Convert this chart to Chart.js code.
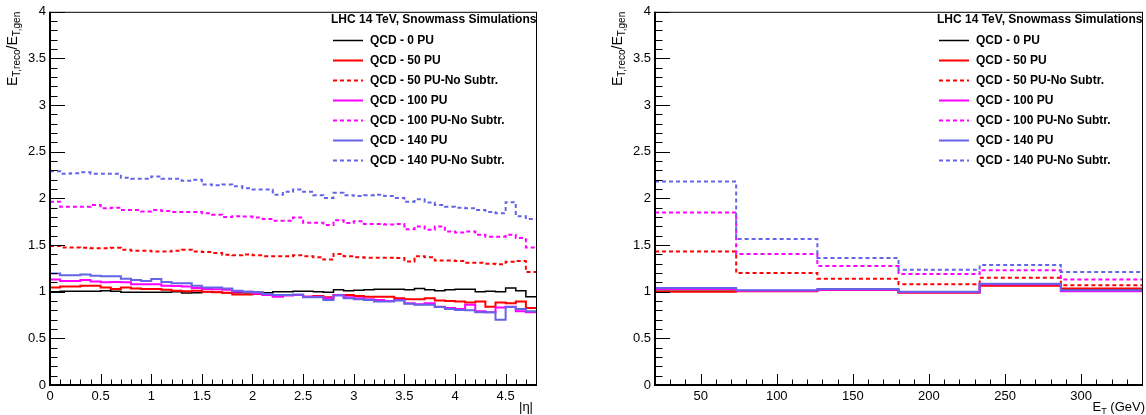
<!DOCTYPE html>
<html>
<head>
<meta charset="utf-8">
<script src="https://cdn.jsdelivr.net/npm/chart.js@4.4.0/dist/chart.umd.min.js"></script>
<style>
    body { margin: 0; background: #fff; }
    .pad { position: absolute; top: 0; width: 573px; height: 415px; }
</style>
</head>
<body>
<div class="pad" style="left:0"><canvas id="etaChart" width="573" height="415"></canvas></div>
<div class="pad" style="left:573px"><canvas id="etChart" width="573" height="415"></canvas></div>
<script>
// legend / series names
const seriesLabels = [
    "QCD - 0 PU",
    "QCD - 50 PU",
    "QCD - 50 PU-No Subtr.",
    "QCD - 100 PU",
    "QCD - 100 PU-No Subtr.",
    "QCD - 140 PU",
    "QCD - 140 PU-No Subtr."
];
const seriesColors = ["#000000", "#ff0000", "#ff0000", "#ff00ff", "#ff00ff", "#6464e8", "#6464e8"];
const seriesDashed = [false, false, true, false, true, false, true];

// |eta| bin edges and contents (48 bins)
const etaEdges = [0, 0.1, 0.2, 0.3, 0.4, 0.5, 0.6, 0.7, 0.8, 0.9, 1.0, 1.1, 1.2, 1.3, 1.4, 1.5,
    1.6, 1.7, 1.8, 1.9, 2.0, 2.1, 2.2, 2.3, 2.4, 2.5, 2.6, 2.7, 2.8, 2.9, 3.0, 3.1, 3.2,
    3.3, 3.4, 3.5, 3.6, 3.7, 3.8, 3.9, 4.0, 4.1, 4.2, 4.3, 4.4, 4.5, 4.6, 4.7, 4.8];
const eta0PU = [1.00, 1.005, 1.005, 1.005, 1.005, 1.01, 1.005, 0.995, 0.995, 0.995, 0.995, 0.995,
    1.0, 0.985, 0.99, 1.0, 0.995, 0.99, 0.99, 0.99, 0.995, 0.99, 1.0, 1.0, 1.005, 1.005, 1.0, 0.995,
    1.02, 1.01, 1.015, 1.02, 1.025, 1.025, 1.025, 1.02, 1.035, 1.02, 1.01, 1.02, 1.025, 1.025,
    1.0, 1.005, 1.0, 1.04, 1.01, 0.945];
const eta50PU = [1.045, 1.055, 1.055, 1.065, 1.065, 1.045, 1.03, 1.045, 1.035, 1.03, 1.03, 1.02,
    1.01, 1.005, 1.01, 1.0, 0.993, 0.99, 0.97, 0.97, 0.975, 0.965, 0.955, 0.965, 0.965, 0.945, 0.955,
    0.94, 0.965, 0.965, 0.955, 0.945, 0.945, 0.945, 0.93, 0.92, 0.92, 0.93, 0.905, 0.9, 0.895, 0.885,
    0.895, 0.84, 0.885, 0.875, 0.895, 0.825];
const eta50NoSub = [1.49, 1.475, 1.475, 1.47, 1.465, 1.465, 1.47, 1.45, 1.44, 1.44, 1.43, 1.43,
    1.44, 1.45, 1.43, 1.425, 1.415, 1.395, 1.39, 1.40, 1.39, 1.38, 1.38, 1.38, 1.39, 1.38, 1.37,
    1.345, 1.405, 1.38, 1.37, 1.365, 1.365, 1.365, 1.36, 1.325, 1.38, 1.37, 1.335, 1.335, 1.33,
    1.31, 1.31, 1.30, 1.295, 1.32, 1.33, 1.21];
const eta100PU = [1.13, 1.115, 1.115, 1.125, 1.11, 1.10, 1.105, 1.10, 1.08, 1.08, 1.08, 1.065,
    1.06, 1.055, 1.04, 1.03, 1.025, 1.02, 1.0, 1.0, 0.98, 0.965, 0.945, 0.96, 0.965, 0.945, 0.945,
    0.93, 0.965, 0.94, 0.93, 0.92, 0.91, 0.9, 0.91, 0.875, 0.865, 0.875, 0.84, 0.825, 0.815, 0.86,
    0.79, 0.78, 0.83, 0.84, 0.79, 0.78];
const eta100NoSub = [1.965, 1.91, 1.91, 1.91, 1.93, 1.895, 1.90, 1.875, 1.875, 1.86, 1.875, 1.865,
    1.855, 1.855, 1.855, 1.84, 1.825, 1.80, 1.81, 1.805, 1.795, 1.78, 1.76, 1.76, 1.795, 1.74, 1.74,
    1.715, 1.765, 1.735, 1.755, 1.725, 1.725, 1.72, 1.725, 1.67, 1.70, 1.665, 1.70, 1.645, 1.635,
    1.645, 1.61, 1.59, 1.59, 1.61, 1.575, 1.475];
const eta140PU = [1.195, 1.175, 1.175, 1.185, 1.17, 1.165, 1.165, 1.14, 1.125, 1.115, 1.135, 1.105,
    1.09, 1.09, 1.065, 1.045, 1.045, 1.035, 1.01, 1.0, 0.993, 0.975, 0.965, 0.965, 0.97, 0.94, 0.94,
    0.91, 0.96, 0.93, 0.92, 0.91, 0.895, 0.895, 0.905, 0.87, 0.86, 0.86, 0.835, 0.815, 0.805, 0.8,
    0.78, 0.78, 0.70, 0.835, 0.815, 0.79];
const eta140NoSub = [2.29, 2.265, 2.27, 2.28, 2.265, 2.265, 2.265, 2.22, 2.21, 2.21, 2.235, 2.21,
    2.21, 2.19, 2.2, 2.15, 2.14, 2.15, 2.13, 2.11, 2.095, 2.095, 2.04, 2.07, 2.095, 2.07, 2.035,
    2.005, 2.06, 2.035, 2.025, 2.035, 2.04, 2.025, 2.005, 1.965, 1.99, 1.955, 1.93, 1.91, 1.90,
    1.895, 1.875, 1.855, 1.84, 1.96, 1.81, 1.78];

// E_T bin edges (GeV) and contents (6 bins)
const etEdges = [20, 73.33, 126.67, 180, 233.33, 286.67, 340];
const et0PU = [1.005, 1.005, 1.02, 0.995, 1.07, 1.03];
const et50PU = [1.0, 1.005, 1.02, 0.99, 1.065, 1.035];
const et50NoSub = [1.43, 1.20, 1.14, 1.08, 1.15, 1.07];
const et100PU = [1.03, 1.01, 1.02, 0.995, 1.08, 1.005];
const et100NoSub = [1.85, 1.405, 1.275, 1.19, 1.23, 1.13];
const et140PU = [1.04, 1.015, 1.03, 1.0, 1.085, 1.015];
const et140NoSub = [2.18, 1.565, 1.36, 1.235, 1.285, 1.21];

const yTickLabels = ["0", "0.5", "1", "1.5", "2", "2.5", "3", "3.5", "4"];
const headerText = "LHC 14 TeV, Snowmass Simulations";

const FONT = '"Liberation Sans", Arial, Helvetica, sans-serif';

// histogram -> stepped line points
function histPoints(edges, values) {
    const pts = values.map((v, i) => ({ x: edges[i], y: v }));
    pts.push({ x: edges[edges.length - 1], y: values[values.length - 1] });
    return pts;
}

function buildDatasets(edges, seriesList) {
    return seriesList.map((vals, i) => ({
        label: seriesLabels[i],
        data: histPoints(edges, vals),
        borderColor: seriesColors[i],
        borderWidth: i === 0 ? 1.5 : 2,
        borderDash: seriesDashed[i] ? [4, 3] : [],
        stepped: true,
        pointRadius: 0,
        fill: false,
        order: 10 - i
    }));
}

function drawRich(ctx, segs, x, y, align) {
    let total = 0;
    segs.forEach(s => {
        ctx.font = (s.bold ? "bold " : "") + s.size + "px " + FONT;
        s.w = ctx.measureText(s.t).width;
        total += s.w;
    });
    let cx = align === "right" ? x - total : x;
    ctx.textAlign = "left";
    ctx.textBaseline = "alphabetic";
    segs.forEach(s => {
        ctx.font = (s.bold ? "bold " : "") + s.size + "px " + FONT;
        ctx.fillText(s.t, cx, y + (s.dy || 0));
        cx += s.w;
    });
    return total;
}

const yTitleSegs = [
    { t: "E", size: 14 },
    { t: "T,reco", size: 10, dy: 3 },
    { t: "/", size: 14 },
    { t: "E", size: 14 },
    { t: "T,gen", size: 10, dy: 3 }
];

// ROOT-like frame, inward ticks, titles and legend
const rootDecor = {
    id: "rootDecor",
    afterDraw(chart, args, opts) {
        const ctx = chart.ctx;
        const area = chart.chartArea;
        const xs = chart.scales.x;
        const ys = chart.scales.y;
        ctx.save();
        ctx.strokeStyle = "#000";

        // ticks
        ctx.lineWidth = 1;
        ctx.beginPath();
        xs.ticks.forEach(t => {
            const px = Math.round(xs.getPixelForValue(t.value)) + 0.5;
            const len = t.label !== "" ? 11 : 5.5;
            ctx.moveTo(px, area.bottom);
            ctx.lineTo(px, area.bottom - len);
        });
        ys.ticks.forEach(t => {
            const py = Math.round(ys.getPixelForValue(t.value)) + 0.5;
            const len = t.label !== "" ? 15 : 7.5;
            ctx.moveTo(area.left, py);
            ctx.lineTo(area.left + len, py);
        });
        ctx.stroke();

        // frame
        ctx.lineWidth = 1;
        ctx.strokeRect(area.left + 0.5, area.top + 0.5, area.right - area.left, area.bottom - area.top);
        ctx.lineWidth = 2;
        ctx.beginPath();
        ctx.moveTo(area.left, area.top);
        ctx.lineTo(area.left, area.bottom);
        ctx.lineTo(area.right, area.bottom);
        ctx.stroke();

        ctx.fillStyle = "#000";

        // x title
        drawRich(ctx, opts.xTitle, opts.xTitleRight, 411, "right");

        // y title (rotated)
        let total = 0;
        yTitleSegs.forEach(s => {
            ctx.font = s.size + "px " + FONT;
            total += ctx.measureText(s.t).width;
        });
        ctx.save();
        ctx.translate(area.left - 33, area.top + total);
        ctx.rotate(-Math.PI / 2);
        drawRich(ctx, yTitleSegs, 0, 0, "left");
        ctx.restore();

        // legend
        const R = area.right;
        ctx.font = "bold 12px " + FONT;
        ctx.textBaseline = "middle";
        ctx.textAlign = "left";
        ctx.fillText(headerText, R - 205, 20);
        chart.data.datasets.forEach((ds, i) => {
            const y = 40 + i * 20;
            ctx.save();
            ctx.strokeStyle = ds.borderColor;
            ctx.lineWidth = ds.borderWidth;
            ctx.setLineDash(ds.borderDash);
            ctx.beginPath();
            ctx.moveTo(R - 203, y + 0.5);
            ctx.lineTo(R - 173, y + 0.5);
            ctx.stroke();
            ctx.restore();
            ctx.fillText(ds.label, R - 166, y + 1);
        });
        ctx.restore();
    }
};

function tickFmt(v) {
    const r = Math.round(v * 10) / 10;
    if (Math.abs(r * 2 - Math.round(r * 2)) > 1e-6) return "";
    return String(r);
}

function makeChart(canvasId, edges, seriesList, xOpts, pad, yAxisWidth, xTitle, xTitleRight) {
    return new Chart(document.getElementById(canvasId), {
        type: "line",
        data: { datasets: buildDatasets(edges, seriesList) },
        plugins: [rootDecor],
        options: {
            responsive: false,
            animation: false,
            layout: { padding: pad },
            plugins: {
                legend: { display: false },
                tooltip: { enabled: false },
                rootDecor: { xTitle: xTitle, xTitleRight: xTitleRight }
            },
            scales: {
                x: {
                    type: "linear",
                    min: xOpts.min,
                    max: xOpts.max,
                    grid: { display: false, drawTicks: false },
                    border: { display: false },
                    afterFit: s => { s.height = 30; },
                    ticks: {
                        stepSize: xOpts.step,
                        autoSkip: false,
                        maxRotation: 0,
                        padding: 4,
                        color: "#000",
                        font: { family: FONT, size: 13 },
                        callback: xOpts.fmt
                    }
                },
                y: {
                    min: 0,
                    max: 4,
                    grid: { display: false, drawTicks: false },
                    border: { display: false },
                    afterFit: s => { s.width = yAxisWidth; },
                    ticks: {
                        stepSize: 0.1,
                        autoSkip: false,
                        padding: 4,
                        color: "#000",
                        font: { family: FONT, size: 13 },
                        callback: v => {
                            const lbl = tickFmt(v);
                            return yTickLabels.includes(lbl) ? lbl : "";
                        }
                    }
                }
            }
        }
    });
}

makeChart("etaChart", etaEdges,
    [eta0PU, eta50PU, eta50NoSub, eta100PU, eta100NoSub, eta140PU, eta140NoSub],
    { min: 0, max: 4.8, step: 0.1, fmt: v => (v > 4.75 ? "" : tickFmt(v)) },
    { left: 0, right: 37, top: 5, bottom: 0 }, 50,
    [{ t: "|\u03b7|", size: 13 }], 533);

makeChart("etChart", etEdges,
    [et0PU, et50PU, et50NoSub, et100PU, et100NoSub, et140PU, et140NoSub],
    { min: 20, max: 340, step: 10, fmt: v => (Math.round(v) % 50 === 0 ? String(Math.round(v)) : "") },
    { left: 0, right: 3, top: 5, bottom: 0 }, 82,
    [{ t: "E", size: 13 }, { t: "T", size: 9, dy: 3 }, { t: " (GeV)", size: 13 }], 572);
</script>
</body>
</html>
